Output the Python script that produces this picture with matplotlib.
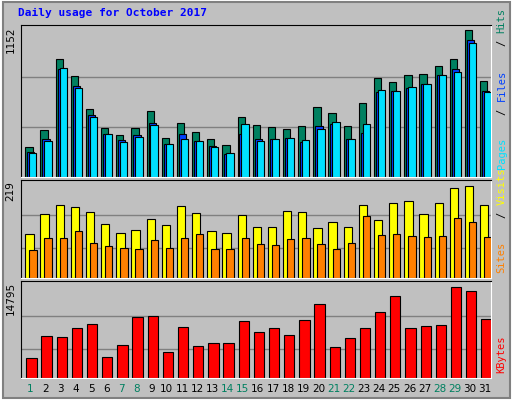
import numpy as np
import matplotlib.pyplot as plt
from matplotlib.patches import Rectangle

days = list(range(1, 32))
hits = [237, 370, 925, 792, 534, 386, 331, 386, 519, 308, 425, 354, 300, 253, 472, 409,
        394, 378, 401, 550, 503, 401, 581, 777, 745, 800, 808, 870, 925, 1152, 753]
files = [198, 300, 847, 714, 487, 339, 292, 331, 425, 261, 339, 284, 245, 182, 339, 300,
         300, 308, 276, 401, 417, 300, 347, 667, 675, 698, 730, 800, 847, 1074, 675]
pages = [190, 284, 855, 698, 472, 339, 276, 315, 409, 261, 300, 284, 237, 190, 417, 284,
         300, 308, 292, 378, 433, 300, 417, 683, 675, 706, 730, 800, 823, 1050, 667]
visits = [105, 152, 174, 169, 157, 129, 107, 114, 140, 126, 171, 155, 112, 107, 150, 121,
          121, 159, 157, 119, 133, 121, 174, 138, 179, 183, 152, 179, 214, 219, 174]
sites = [67, 95, 95, 112, 83, 76, 71, 69, 90, 71, 95, 105, 69, 69, 95, 81,
         79, 93, 95, 81, 69, 83, 148, 102, 105, 100, 98, 100, 143, 133, 98]
kbytes = [3251, 6828, 6665, 8129, 8779, 3414, 5365, 9917, 10079, 4227, 8291, 5202, 5690, 5690,
          9266, 7478, 8129, 6991, 9429, 12030, 5040, 6503, 8129, 10730, 13331, 8129, 8454,
          8616, 14795, 14144, 9592]
weekend = [1, 7, 8, 14, 15, 21, 22, 28, 29]

bg = '#c0c0c0'
mono = 'DejaVu Sans Mono'
x = np.arange(31)

fig = plt.figure(figsize=(5.12, 4.0), dpi=100, facecolor=bg)
# bevel border
fig.patches.append(Rectangle((0.002, 0.002), 0.996, 0.996, transform=fig.transFigure,
                             fill=False, edgecolor='white', lw=1.5))
fig.patches.append(Rectangle((0.006, 0.006), 0.99, 0.99, transform=fig.transFigure,
                             fill=False, edgecolor='#808080', lw=1.5))

fig.text(0.035, 0.967, 'Daily usage for October 2017', color='#0000ff', fontsize=8,
         fontweight='bold', family=mono, va='center')

def make_ax(bottom, top, ymax, grids):
    ax = fig.add_axes([0.041, bottom, 0.918, top - bottom])
    ax.set_facecolor(bg)
    ax.set_xlim(0, 31)
    ax.set_ylim(0, ymax)
    for g in grids:
        ax.axhline(g * ymax, color='#808080', lw=1, zorder=0)
    ax.set_xticks([])
    ax.set_yticks([])
    for s in ax.spines.values():
        s.set_color('black')
    ax.spines['right'].set_color('white')
    ax.spines['bottom'].set_color('white')
    return ax

ax1 = make_ax(0.5575, 0.9375, 1188, [0.33, 0.66])
ax1.bar(x + 0.28, hits, 0.48, align='edge', color='#008060', edgecolor='black', lw=0.8)
ax1.bar(x + 0.41, files, 0.48, align='edge', color='#0040ff', edgecolor='black', lw=0.8)
ax1.bar(x + 0.54, pages, 0.48, align='edge', color='#00e0ff', edgecolor='black', lw=0.8)

ax2 = make_ax(0.305, 0.55, 233, [0.306, 0.643])
ax2.bar(x + 0.28, visits, 0.55, align='edge', color='#ffff00', edgecolor='black', lw=0.8)
ax2.bar(x + 0.55, sites, 0.48, align='edge', color='#ff8000', edgecolor='black', lw=0.8)

ax3 = make_ax(0.055, 0.2975, 15716, [0.30, 0.64])
ax3.bar(x + 0.35, kbytes, 0.68, align='edge', color='#ff0000', edgecolor='black', lw=0.8)

for ax, lab in [(ax1, '1152'), (ax2, '219'), (ax3, '14795')]:
    ax.text(-0.012, 0.99, lab, transform=ax.transAxes, rotation=90, ha='right', va='top',
            fontsize=7.5, family='DejaVu Sans')

for i, d in enumerate(days):
    ax3.text(i + 0.62, -0.06, str(d), transform=ax3.get_xaxis_transform(), ha='center',
             va='top', fontsize=7.5, color='#008060' if d in weekend else 'black')

def side_label(ax, parts):
    # parts from bottom to top: (text, colour)
    y = 0.05
    for txt, col in parts:
        t = ax.text(1.012, y, txt, transform=ax.transAxes, rotation=90, ha='left',
                    va='bottom', fontsize=7.5, family=mono, color=col)
        y += (len(txt) + 0.3) * 0.068 * (0.38 / ax.get_position().height)

side_label(ax1, [('Pages', '#00e0ff'), ('/', 'black'), ('Files', '#0040ff'),
                 ('/', 'black'), ('Hits', '#008060')])
side_label(ax2, [('Sites', '#ff8000'), ('/', 'black'), ('Visits', '#ffff00')])
side_label(ax3, [('KBytes', '#ff0000')])

fig.savefig('out.png', dpi=100, facecolor=bg)
